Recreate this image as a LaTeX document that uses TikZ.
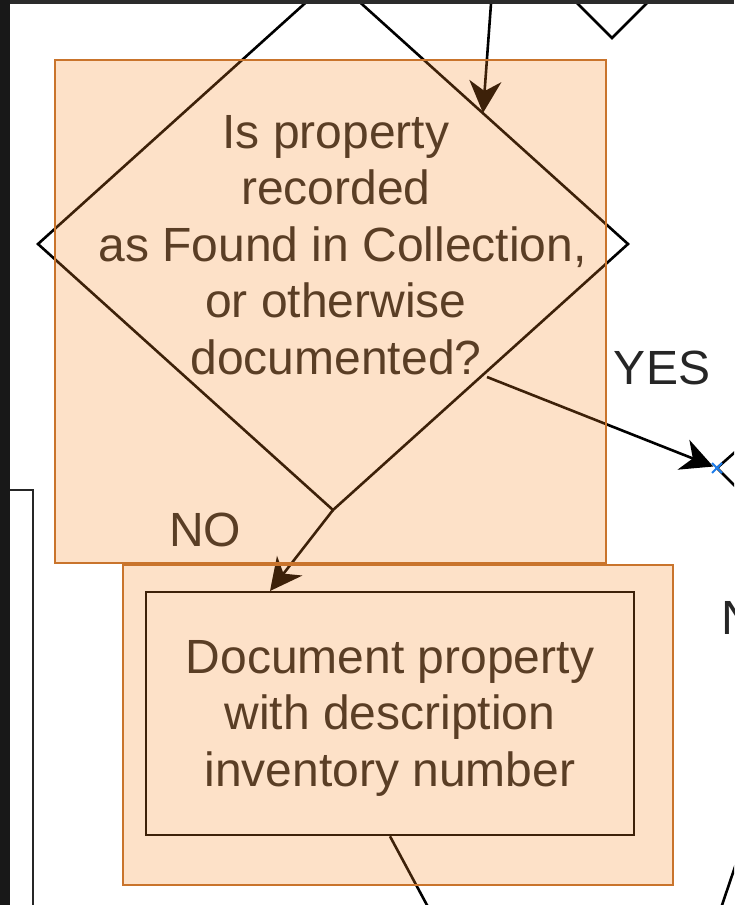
\documentclass[tikz,border=0pt]{standalone}
\usepackage{fontspec}
\setmainfont{Liberation Sans}
\usetikzlibrary{positioning}
\usetikzlibrary{arrows.meta}
\pgfdeclarelayer{background}
\pgfdeclarelayer{foreground}
\pgfsetlayers{background,main,foreground}
\definecolor{hlfill}{RGB}{247,134,36}
\definecolor{hlborder}{RGB}{201,116,44}
\definecolor{pinblue}{RGB}{30,125,235}
\definecolor{inkgray}{RGB}{38,38,38}
\definecolor{frametop}{RGB}{43,43,43}
\definecolor{frameleft}{RGB}{24,24,24}

\begin{document}
\begin{tikzpicture}[x=1pt,y=-1pt,
	flowline/.style={draw=black, line width=2.6pt},
	flowarrow/.style={flowline, -{Stealth[length=32pt,width=32pt,inset=10pt]}},
	flowtext/.style={inner sep=0pt, text=inkgray, align=center, font=\fontsize{48}{56.5}\selectfont},
	highlight/.style={fill=hlfill, fill opacity=0.25, draw=hlborder, line width=2.6pt},
	]
	\useasboundingbox (0,0) rectangle (734,905);
	\clip (0,0) rectangle (734,905);
	%Decision
	\coordinate (dtop)   at (333,-22);
	\coordinate (dright) at (628,244);
	\coordinate (dbot)   at (333,510);
	\coordinate (dleft)  at (38,244);
	\draw[flowline] (dtop) -- (dright) -- (dbot) -- (dleft) -- cycle;
	\node[flowtext] (question) at (336,245) {Is property\\recorded\\\ as Found in Collection,\\or otherwise\\documented?};
	%Process
	\node[flowline, minimum width=488pt, minimum height=243pt, inner sep=0pt] (docbox) at (390,713.5) {};
	\node[flowtext] (doctext) at (390,718) {Document property\\with description\\inventory number};
	%Neighbours
	\coordinate (rdleft) at (717,468);
	\coordinate (rdup)   at (777,415);
	\coordinate (rddown) at (777,528);
	\draw[flowline] (rdup) -- (rdleft) -- (rddown);
	\coordinate (sdbot) at (612,38);
	\draw[flowline] (570,-4) -- (sdbot) -- (654,-4);
	\draw[line width=2.6pt, draw=inkgray] (-20,490) -- (33,490) -- (33,920);
	\draw[flowline] (720,911) -- (740,852);
	%Connectors
	\coordinate (fromabove) at (492,-10);
	\coordinate (qin)       at (483,113);
	\coordinate (qyes)      at (487,377);
	\coordinate (docin)     at (270,591);
	\coordinate (belowexit) at (435,920);
	\draw[flowarrow] (fromabove) -- (qin);
	\draw[flowarrow, shorten >=4pt] (qyes) -- (rdleft);
	\draw[flowarrow] (dbot) -- (docin);
	\draw[flowline] (docbox.south) -- (belowexit);
	\draw[pinblue, line width=2pt] ([shift={(-5,-5)}]rdleft) -- ([shift={(5,5)}]rdleft)
		([shift={(-5,5)}]rdleft) -- ([shift={(5,-5)}]rdleft);
	%Labels
	\node[flowtext] (yeslabel) at (662,368) {YES};
	\node[flowtext] (nolabel)  at (205,530) {NO};
	\node[flowtext, anchor=west] (nolabelright) at (721,618) {NO};
	
	\begin{pgfonlayer}{foreground}
	\draw[highlight] (55,60) rectangle (606,563);
	\draw[highlight] (123,565) rectangle (673,885);
	\fill[frametop]  (0,0) rectangle (734,4);
	\fill[frameleft] (0,0) rectangle (10,905);
	\end{pgfonlayer}
\end{tikzpicture}
\end{document}
